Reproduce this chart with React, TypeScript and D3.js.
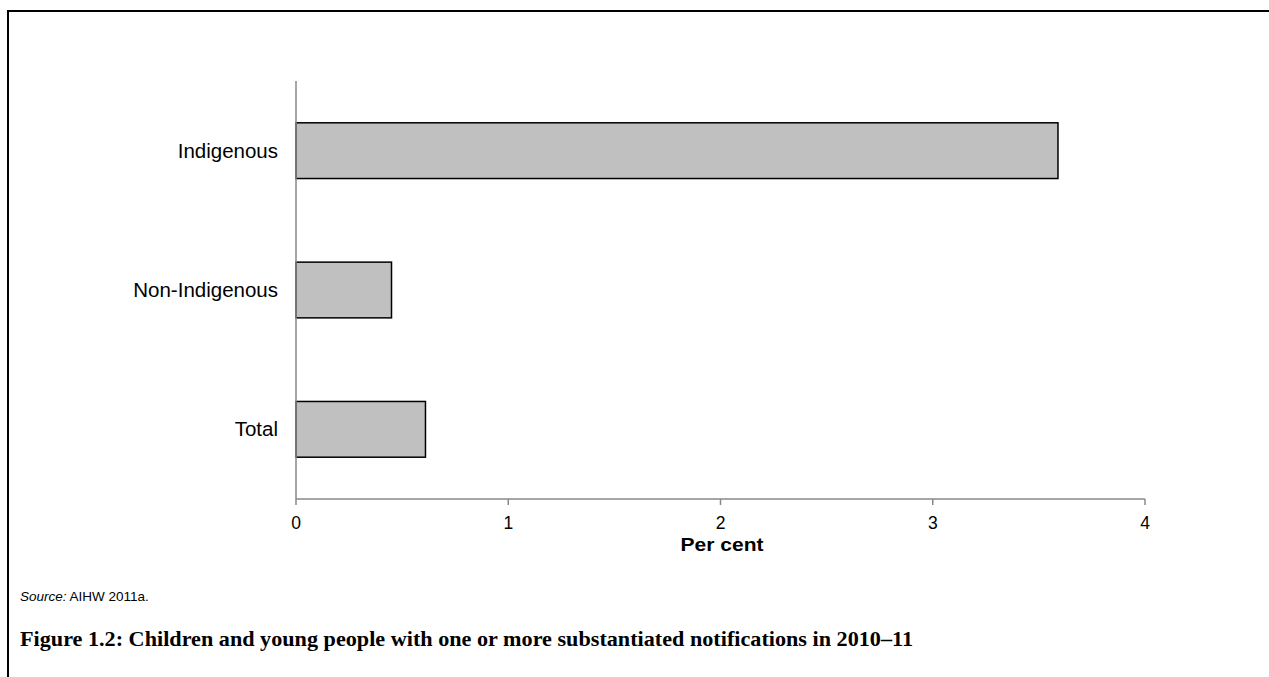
import React from "react";
import * as d3 from "d3";

const categories = ["Indigenous", "Non-Indigenous", "Total"];
const values = [3.59, 0.45, 0.61];
const xTicks = [0, 1, 2, 3, 4];
const xLabel = "Per cent";
const sourceLabel = "Source:";
const sourceText = " AIHW 2011a.";
const title = "Figure 1.2: Children and young people with one or more substantiated notifications in 2010–11";

export default function App() {
  const W = 1269, H = 677;
  const x = d3.scaleLinear().domain([0, 4]).range([296, 1145]);
  const y = d3.scaleBand<string>().domain(categories).range([81, 499]).paddingInner(0.6).paddingOuter(0.3);
  const sans = "Arial, 'Liberation Sans', sans-serif";
  return (
    <svg width={W} height={H} style={{ position: "absolute", left: 0, top: 0, background: "#fff" }}>
      <rect x={0} y={0} width={W} height={H} fill="#fff" />
      <path d={`M8,${H + 5} V11 H${W + 5}`} fill="none" stroke="#000" strokeWidth={2} />
      {categories.map((c, i) => (
        <rect key={c} x={x(0)} y={y(c)!} width={x(values[i]) - x(0)} height={y.bandwidth()}
          fill="#c0c0c0" stroke="#000" strokeWidth={1.5} />
      ))}
      <line x1={x(0)} x2={x(0)} y1={81} y2={499} stroke="#888" strokeWidth={1.5} />
      <line x1={x(0)} x2={x(4)} y1={499} y2={499} stroke="#888" strokeWidth={1.5} />
      {xTicks.map(t => (
        <g key={t}>
          <line x1={x(t)} x2={x(t)} y1={499} y2={505} stroke="#888" strokeWidth={1.5} />
          <text x={x(t)} y={529} textAnchor="middle" fontFamily={sans} fontSize={17.5} fill="#000">{t}</text>
        </g>
      ))}
      {categories.map(c => (
        <text key={c} x={278} y={y(c)! + y.bandwidth() / 2 + 7} textAnchor="end" fontFamily={sans} fontSize={20.5} fill="#000">{c}</text>
      ))}
      <text x={722} y={551} textAnchor="middle" fontFamily={sans} fontSize={19} fontWeight="bold" fill="#000"
        textLength={83} lengthAdjust="spacingAndGlyphs">{xLabel}</text>
      <text x={20} y={601} fontFamily={sans} fontSize={13.5} fill="#000">
        <tspan fontStyle="italic">{sourceLabel}</tspan>{sourceText}
      </text>
      <text x={20} y={646} fontFamily="'Liberation Serif', 'Times New Roman', serif" fontSize={21} fontWeight="bold" fill="#000"
        textLength={893} lengthAdjust="spacingAndGlyphs">{title}</text>
    </svg>
  );
}
